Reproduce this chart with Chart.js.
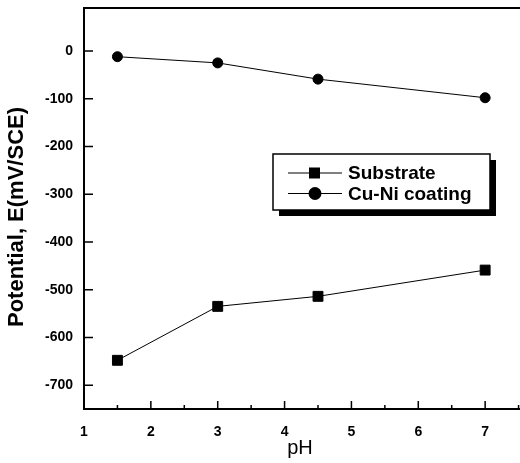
<!DOCTYPE html>
<html lang="en">
<head>
  <meta charset="UTF-8" />
  <title>Potential vs pH</title>
  <script src="https://cdn.jsdelivr.net/npm/chart.js"></script>
  <style>
    body { margin: 0; background: #fff; overflow: hidden; }
    .wrap { width: 560px; height: 463px; }
  </style>
</head>
<body>
<div class="wrap"><canvas id="phChart" width="560" height="463"></canvas></div>

<script>
  // values
  const phValues = [1.5, 3, 4.5, 7];
  const substrate = [-648, -535, -514, -459];
  const cuNiCoating = [-12, -25, -59, -98];
  const xTicks = [1, 2, 3, 4, 5, 6, 7];
  const xMinorTicks = [1.5, 2.5, 3.5, 4.5, 5.5, 6.5, 7.5];
  const yTicks = [0, -100, -200, -300, -400, -500, -600, -700];

  const seriesNames = ['Substrate', 'Cu-Ni coating'];
  const markers = ['rect', 'circle'];

  // frame, inward ticks, axis titles and the boxed legend
  const decorations = {
    id: 'decorations',
    afterDraw(chart) {
      const ctx = chart.ctx;
      const area = chart.chartArea;
      const xs = chart.scales.x, ys = chart.scales.y;
      ctx.save();
      ctx.strokeStyle = '#000';
      ctx.lineWidth = 2;
      ctx.beginPath();
      ctx.moveTo(area.left - 1, area.top);
      ctx.lineTo(area.right, area.top);
      ctx.stroke();

      ctx.lineWidth = 1.5;
      ctx.beginPath();
      xTicks.forEach(v => {
        const px = xs.getPixelForValue(v);
        ctx.moveTo(px, area.bottom); ctx.lineTo(px, area.bottom - 8);
      });
      xMinorTicks.forEach(v => {
        const px = xs.getPixelForValue(v);
        ctx.moveTo(px, area.bottom); ctx.lineTo(px, area.bottom - 4);
      });
      yTicks.forEach(v => {
        const py = ys.getPixelForValue(v);
        ctx.moveTo(area.left, py); ctx.lineTo(area.left + 9, py);
      });
      ctx.stroke();

      // axis titles
      ctx.fillStyle = '#000';
      ctx.textAlign = 'center';
      ctx.textBaseline = 'middle';
      ctx.font = '20px "Liberation Sans", Arial, sans-serif';
      ctx.fillText('pH', 300, 448);
      ctx.save();
      ctx.translate(17, 217);
      ctx.rotate(-Math.PI / 2);
      ctx.font = 'bold 22px "Liberation Sans", Arial, sans-serif';
      ctx.fillText('Potential, E(mV/SCE)', 0, 0);
      ctx.restore();

      // legend box with drop shadow
      const bx = 273, by = 154, bw = 217, bh = 56;
      ctx.fillStyle = '#000';
      ctx.fillRect(bx + 6, by + 6, bw, bh);
      ctx.fillStyle = '#fff';
      ctx.fillRect(bx, by, bw, bh);
      ctx.lineWidth = 1.5;
      ctx.strokeRect(bx, by, bw, bh);

      ctx.font = 'bold 19px "Liberation Sans", Arial, sans-serif';
      ctx.textAlign = 'left';
      seriesNames.forEach((name, i) => {
        const ly = by + 19 + i * 20.5;
        ctx.lineWidth = 1;
        ctx.beginPath();
        ctx.moveTo(288, ly); ctx.lineTo(342, ly);
        ctx.stroke();
        ctx.fillStyle = '#000';
        if (markers[i] === 'rect') {
          ctx.fillRect(309, ly - 5.5, 11, 11);
        } else {
          ctx.beginPath();
          ctx.arc(315, ly, 6.5, 0, Math.PI * 2);
          ctx.fill();
        }
        ctx.fillText(name, 348, ly + 1);
      });
      ctx.restore();
    }
  };

  new Chart(document.getElementById('phChart'), {
    type: 'line',
    data: {
      datasets: [{
        label: seriesNames[0],
        data: phValues.map((x, i) => ({ x: x, y: substrate[i] })),
        borderColor: '#000',
        backgroundColor: '#000',
        borderWidth: 1,
        pointStyle: markers[0],
        pointRadius: 7,
        fill: false
      }, {
        label: seriesNames[1],
        data: phValues.map((x, i) => ({ x: x, y: cuNiCoating[i] })),
        borderColor: '#000',
        backgroundColor: '#000',
        borderWidth: 1,
        pointStyle: markers[1],
        pointRadius: 5,
        fill: false
      }]
    },
    options: {
      responsive: false,
      animation: false,
      layout: { padding: { top: 7, right: 6, left: 0, bottom: 0 } },
      plugins: { legend: { display: false }, tooltip: { enabled: false } },
      scales: {
        x: {
          type: 'linear',
          min: 1,
          max: 8,
          afterFit: s => { s.height = 54; s.paddingLeft = 0; s.paddingRight = 0; },
          afterBuildTicks: s => { s.ticks = xTicks.map(v => ({ value: v })); },
          grid: { display: false, drawTicks: false },
          border: { display: true, color: '#000', width: 2 },
          ticks: {
            color: '#000',
            padding: 15,
            font: { family: '"Liberation Sans", Arial, sans-serif', size: 14, weight: 'bold' }
          }
        },
        y: {
          type: 'linear',
          min: -750,
          max: 90,
          afterFit: s => { s.width = 84; s.paddingTop = 0; s.paddingBottom = 0; },
          afterBuildTicks: s => { s.ticks = yTicks.map(v => ({ value: v })); },
          grid: { display: false, drawTicks: false },
          border: { display: true, color: '#000', width: 2 },
          ticks: {
            color: '#000',
            padding: 11,
            font: { family: '"Liberation Sans", Arial, sans-serif', size: 14, weight: 'bold' }
          }
        }
      }
    },
    plugins: [decorations]
  });
</script>
</body>
</html>
